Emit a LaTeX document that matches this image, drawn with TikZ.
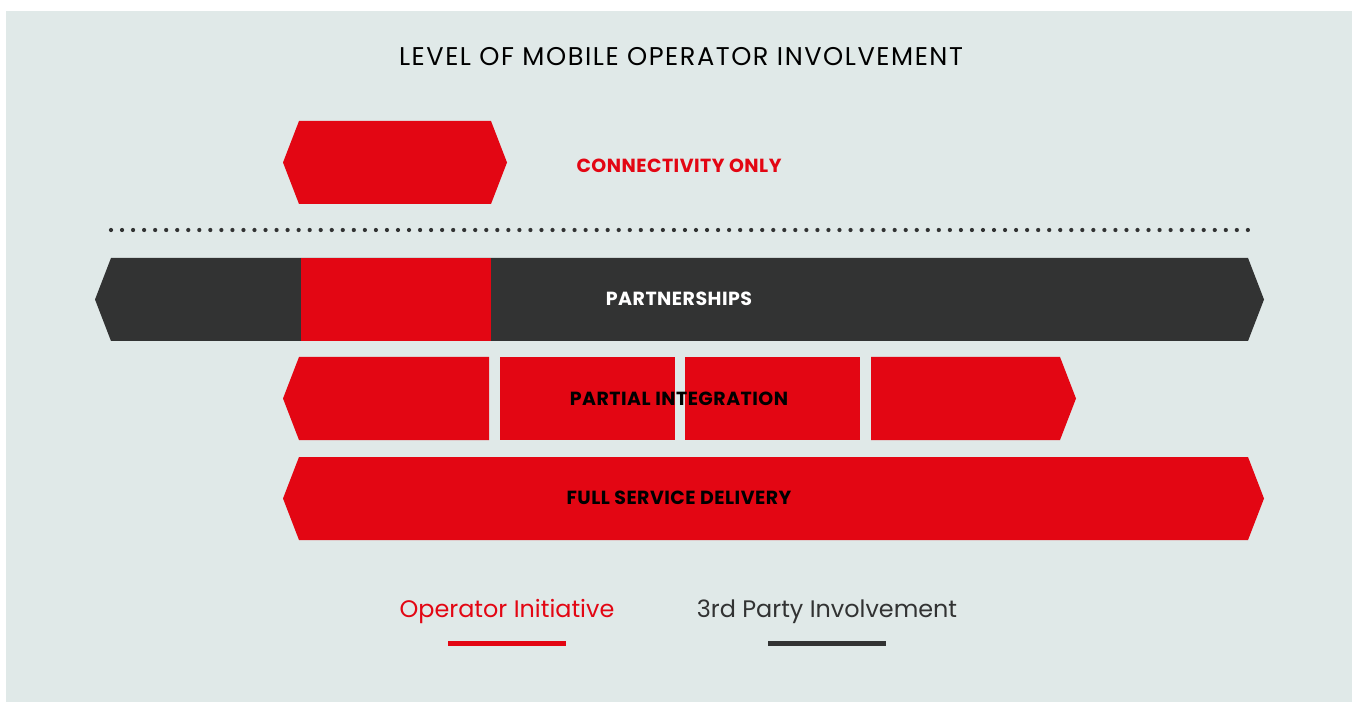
\documentclass[tikz,border=0pt]{standalone}
\usepackage{fontspec}
\setmainfont{Poppins}
\usetikzlibrary{positioning}
\definecolor{opred}{RGB}{227,6,19}
\definecolor{tpdark}{RGB}{50,51,51}
\definecolor{panelbg}{RGB}{224,233,232}
\def\tipw{16}
\def\rowh{83}
\tikzset{
  bartitle/.style={
    inner sep=0pt,
    font=\bfseries\fontsize{10.8}{12}\selectfont\addfontfeatures{LetterSpace=2.5}
  },
  legendtext/.style={
    inner sep=0pt, anchor=base,
    font=\fontsize{13.6}{16}\selectfont
  },
  legendbar/.style={line width=2.8pt},
}
% chevron with tips at both ends
\newcommand{\chevbar}[4][]{%
  \fill[#1] (#2-\tipw,#4+\rowh/2) -- (#2,#4) -- (#3,#4) -- (#3+\tipw,#4+\rowh/2)
    -- (#3,#4+\rowh) -- (#2,#4+\rowh) -- cycle;}

\begin{document}
\begin{tikzpicture}[x=0.02cm, y=-0.02cm]
    \useasboundingbox (0,0) rectangle (1355,702);
    \fill[white] (0,0) rectangle (1355,702);
    \fill[panelbg] (6,11) rectangle (1352,702);

    %% Title
    \node[anchor=base, inner sep=0pt, font=\fontsize{14.6}{17}\selectfont\addfontfeatures{LetterSpace=6}] (title) at (681,66) {LEVEL OF MOBILE OPERATOR INVOLVEMENT};

    %% Connectivity only
    \chevbar[opred]{299}{491}{121}
    \node[bartitle, text=opred] (conn) at (679,165.5) {CONNECTIVITY ONLY};

    % Divider
    \coordinate (dl) at (111,230);
    \coordinate (dr) at (1248,230);
    \draw[tpdark, line width=2.4pt, line cap=round, dash pattern=on 0pt off 0.2208cm] (dl) -- (dr);

    %% Partnerships
    \chevbar[tpdark]{111}{1248}{258}
    \fill[opred] (301,258) rectangle (491,341);
    \node[bartitle, text=white] (part) at (679,298.5) {PARTNERSHIPS};

    %% Partial integration
    \fill[opred] (299-\tipw,398.5) -- (299,357) -- (489,357) -- (489,440) -- (299,440) -- cycle;
    \fill[opred] (500,357) rectangle (675,440);
    \fill[opred] (685,357) rectangle (860,440);
    \fill[opred] (871,357) -- (1060,357) -- (1060+\tipw,398.5) -- (1060,440) -- (871,440) -- cycle;
    \node[bartitle, text=black] (integ) at (679,398.5) {PARTIAL INTEGRATION};

    %% Full service delivery
    \chevbar[opred]{299}{1248}{457}
    \node[bartitle, text=black] (full) at (679,498) {FULL SERVICE DELIVERY};

    %% Legend
    \node[legendtext, text=opred] (lop) at (507,617) {Operator Initiative};
    \node[legendtext, text=tpdark] (ltp) at (827,617) {3rd Party Involvement};
    \coordinate (opa) at (448,643.5);
    \coordinate (opb) at (566,643.5);
    \coordinate (tpa) at (768,643.5);
    \coordinate (tpb) at (886,643.5);
    \draw[legendbar, opred] (opa) -- (opb);
    \draw[legendbar, tpdark] (tpa) -- (tpb);
\end{tikzpicture}
\end{document}
